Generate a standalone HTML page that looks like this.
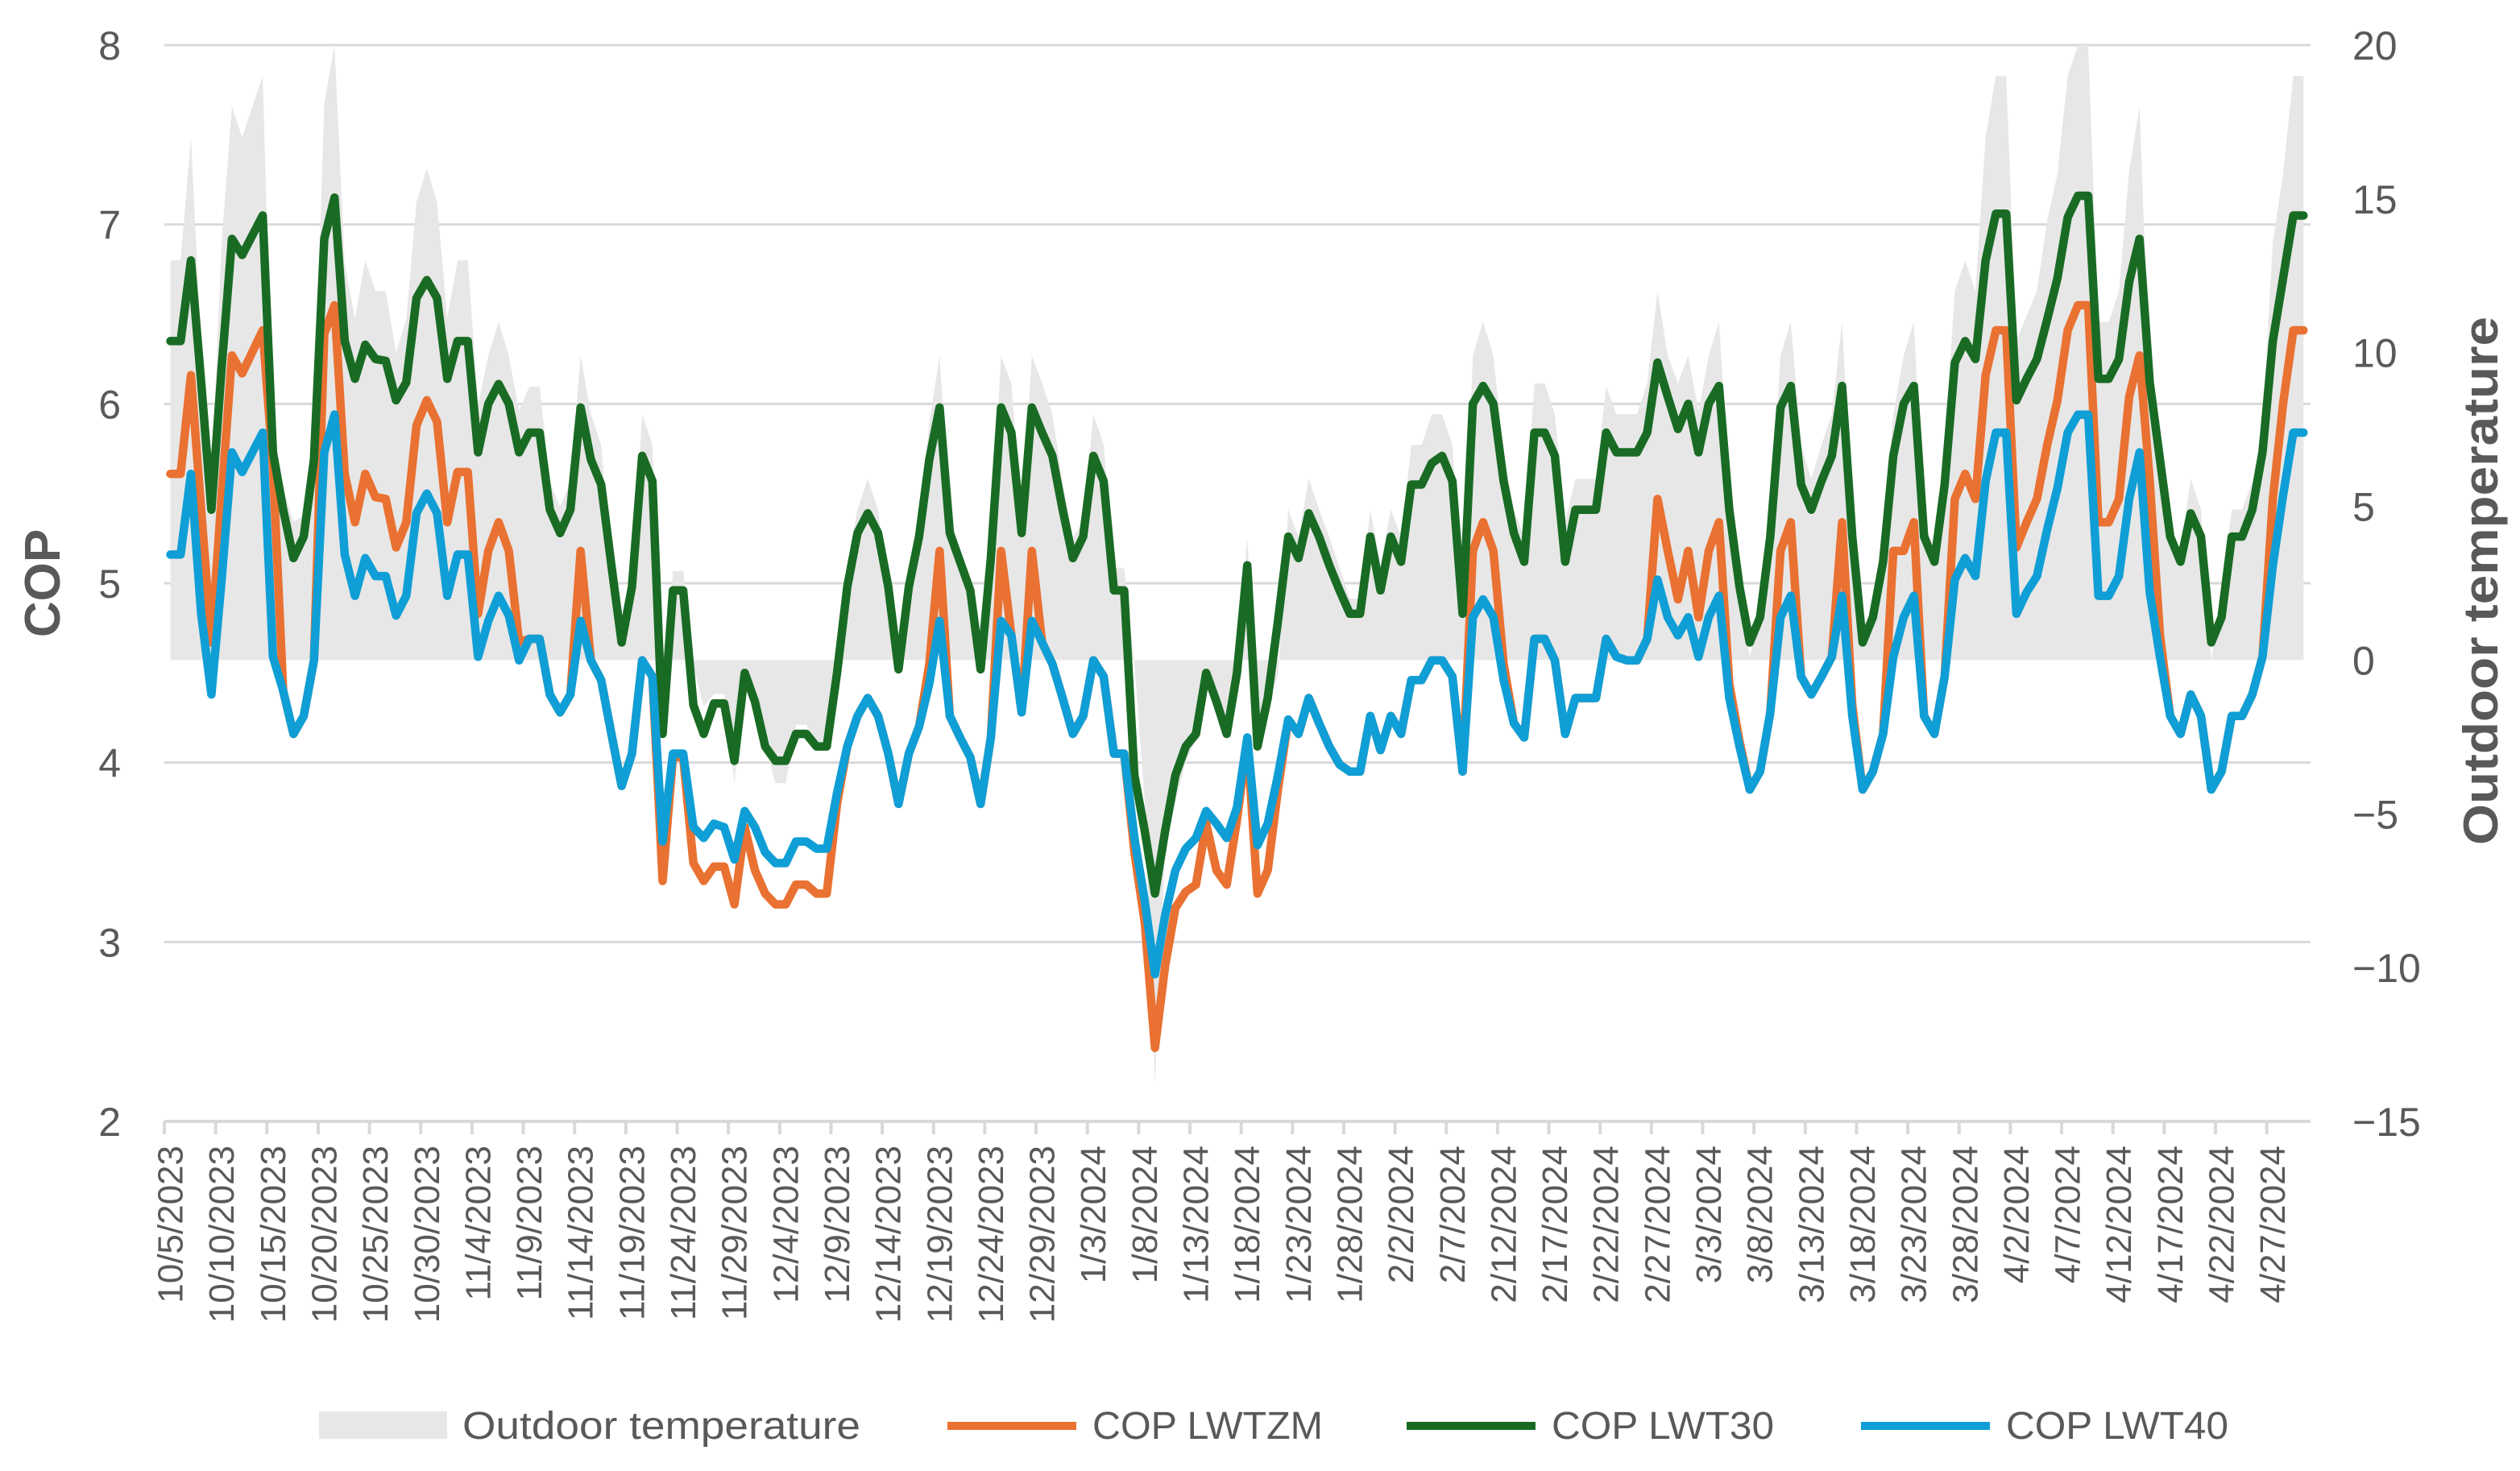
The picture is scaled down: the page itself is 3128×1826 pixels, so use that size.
<!DOCTYPE html>
<html><head><meta charset="utf-8"><style>
html,body{margin:0;padding:0;background:#fff;}
svg{display:block;font-family:"Liberation Sans",sans-serif;}
</style></head><body>
<svg id="chart" width="3128" height="1826" viewBox="0 0 3128 1826" xmlns="http://www.w3.org/2000/svg">
<g id="grid"></g>
<g id="area"></g>
<g id="lines"></g>
<g id="axes"></g>
<text transform="translate(74,724) rotate(-90)" text-anchor="middle" font-size="62" font-weight="bold" fill="#595959">COP</text>
<text transform="translate(3100,721) rotate(-90)" text-anchor="middle" font-size="60" font-weight="bold" fill="#595959" textLength="656" lengthAdjust="spacingAndGlyphs">Outdoor temperature</text>
<g>
 <rect x="396" y="1752" width="159" height="34" fill="#e7e7e7"/>
 <text x="574" y="1786" font-size="48" fill="#595959" textLength="494" lengthAdjust="spacingAndGlyphs">Outdoor temperature</text>
 <line x1="1176" y1="1770" x2="1336" y2="1770" stroke="#e97132" stroke-width="10"/>
 <text x="1356" y="1786" font-size="48" fill="#595959" textLength="286" lengthAdjust="spacingAndGlyphs">COP LWTZM</text>
 <line x1="1746" y1="1770" x2="1906" y2="1770" stroke="#196b24" stroke-width="10"/>
 <text x="1926" y="1786" font-size="48" fill="#595959" textLength="276" lengthAdjust="spacingAndGlyphs">COP LWT30</text>
 <line x1="2310" y1="1770" x2="2470" y2="1770" stroke="#0f9ed5" stroke-width="10"/>
 <text x="2490" y="1786" font-size="48" fill="#595959" textLength="276" lengthAdjust="spacingAndGlyphs">COP LWT40</text>
</g>
</svg>
<script>
const startDate = [2023, 9, 5];
const copTicks = [2, 3, 4, 5, 6, 7, 8];
const tempTicks = [20, 15, 10, 5, 0, -5, -10, -15];
const tempTickLabels = ["20", "15", "10", "5", "0", "\u22125", "\u221210", "\u221215"];
const lwt30 = [6.35,6.35,6.80,6.12,5.41,6.20,6.92,6.83,6.94,7.05,5.73,5.41,5.14,5.26,5.69,6.92,7.15,6.35,6.14,6.33,6.25,6.24,6.02,6.12,6.59,6.69,6.59,6.14,6.35,6.35,
5.73,6.00,6.11,6.00,5.73,5.84,5.84,5.41,5.28,5.41,5.98,5.69,5.55,5.10,4.67,4.98,5.71,5.57,4.16,4.96,4.96,4.32,4.16,4.33,4.33,4.01,4.50,4.34,4.09,4.01,
4.01,4.16,4.16,4.09,4.09,4.50,4.98,5.28,5.39,5.28,4.98,4.52,4.98,5.26,5.69,5.98,5.28,5.12,4.96,4.52,5.14,5.98,5.84,5.28,5.98,5.84,5.71,5.41,5.14,5.26,
5.71,5.57,4.96,4.96,3.93,3.62,3.27,3.62,3.93,4.09,4.16,4.50,4.34,4.16,4.50,5.10,4.09,4.36,4.79,5.26,5.14,5.39,5.26,5.10,4.96,4.83,4.83,5.26,4.96,5.26,
5.12,5.55,5.55,5.67,5.71,5.57,4.83,6.00,6.10,6.00,5.57,5.28,5.12,5.84,5.84,5.71,5.12,5.41,5.41,5.41,5.84,5.73,5.73,5.73,5.84,6.23,6.04,5.86,6.00,5.73,
6.00,6.10,5.41,4.98,4.67,4.81,5.26,5.98,6.10,5.55,5.41,5.57,5.71,6.10,5.26,4.67,4.81,5.12,5.71,6.00,6.10,5.26,5.12,5.55,6.23,6.35,6.25,6.80,7.06,7.06,
6.02,6.14,6.25,6.47,6.70,7.04,7.16,7.16,6.14,6.14,6.25,6.68,6.92,6.12,5.69,5.26,5.12,5.39,5.26,4.67,4.81,5.26,5.26,5.41,5.73,6.35,6.70,7.05,7.05];
const lwtzm = [5.61,5.61,6.16,5.41,4.67,5.49,6.27,6.17,6.29,6.41,5.65,4.40,4.16,4.26,4.57,6.39,6.55,5.61,5.34,5.61,5.48,5.47,5.20,5.34,5.88,6.02,5.90,5.34,5.62,5.62,
4.83,5.18,5.34,5.18,4.67,4.69,4.69,4.38,4.28,4.38,5.18,4.57,4.46,4.16,3.87,4.05,4.57,4.48,3.34,4.03,4.03,3.44,3.34,3.42,3.42,3.21,3.64,3.40,3.27,3.21,
3.21,3.32,3.32,3.27,3.27,3.77,4.09,4.26,4.36,4.26,4.05,3.77,4.05,4.20,4.55,5.18,4.26,4.14,4.03,3.77,4.14,5.18,4.71,4.28,5.18,4.67,4.55,4.36,4.16,4.26,
4.57,4.48,4.05,4.05,3.50,3.11,2.41,2.87,3.19,3.28,3.32,3.66,3.40,3.32,3.68,4.12,3.27,3.40,3.85,4.24,4.16,4.36,4.22,4.09,3.99,3.95,3.95,4.26,4.07,4.26,
4.16,4.46,4.46,4.57,4.57,4.48,3.95,5.18,5.34,5.18,4.55,4.22,4.14,4.69,4.69,4.57,4.16,4.36,4.36,4.36,4.69,4.59,4.57,4.57,4.69,5.47,5.18,4.91,5.18,4.81,
5.18,5.34,4.44,4.12,3.85,3.95,4.28,5.18,5.34,4.48,4.38,4.48,4.59,5.34,4.32,3.85,3.95,4.16,5.18,5.18,5.34,4.26,4.16,4.48,5.47,5.61,5.47,6.16,6.41,6.41,
5.20,5.34,5.47,5.77,6.02,6.41,6.55,6.55,5.34,5.34,5.47,6.04,6.27,5.57,4.71,4.26,4.16,4.38,4.26,3.85,3.95,4.26,4.26,4.38,4.59,5.47,6.00,6.41,6.41];
const lwt40 = [5.16,5.16,5.61,4.83,4.38,5.02,5.73,5.62,5.73,5.84,4.59,4.40,4.16,4.26,4.57,5.73,5.94,5.16,4.93,5.14,5.04,5.04,4.82,4.93,5.39,5.50,5.39,4.93,5.16,5.16,
4.59,4.79,4.93,4.82,4.57,4.69,4.69,4.38,4.28,4.38,4.79,4.57,4.46,4.16,3.87,4.05,4.57,4.48,3.56,4.05,4.05,3.64,3.58,3.66,3.64,3.46,3.73,3.64,3.50,3.44,
3.44,3.56,3.56,3.52,3.52,3.83,4.09,4.26,4.36,4.26,4.05,3.77,4.05,4.20,4.44,4.79,4.26,4.14,4.03,3.77,4.14,4.79,4.71,4.28,4.79,4.67,4.55,4.36,4.16,4.26,
4.57,4.48,4.05,4.05,3.58,3.23,2.82,3.15,3.40,3.52,3.58,3.73,3.66,3.58,3.75,4.14,3.54,3.66,3.93,4.24,4.16,4.36,4.22,4.09,3.99,3.95,3.95,4.26,4.07,4.26,
4.16,4.46,4.46,4.57,4.57,4.48,3.95,4.81,4.91,4.81,4.46,4.22,4.14,4.69,4.69,4.57,4.16,4.36,4.36,4.36,4.69,4.59,4.57,4.57,4.69,5.02,4.81,4.71,4.81,4.59,
4.81,4.93,4.36,4.09,3.85,3.95,4.28,4.81,4.93,4.48,4.38,4.48,4.59,4.93,4.26,3.85,3.95,4.16,4.59,4.81,4.93,4.26,4.16,4.48,5.02,5.14,5.04,5.57,5.84,5.84,
4.83,4.95,5.04,5.30,5.53,5.84,5.94,5.94,4.93,4.93,5.04,5.47,5.73,4.95,4.59,4.26,4.16,4.38,4.26,3.85,3.95,4.26,4.26,4.38,4.59,5.10,5.49,5.84,5.84];
const outdoorTemp = [13.0,13.0,17.0,10.2,5.8,13.6,18.0,17.0,18.0,19.0,7.2,5.6,4.5,4.7,7.7,18.1,20.0,12.9,11.1,13.0,12.0,12.0,10.0,11.1,14.9,16.0,14.9,11.1,13.0,13.0,
8.3,9.9,11.0,9.9,8.1,8.9,8.9,5.8,5.0,5.8,9.9,8.0,7.0,3.1,0.4,2.4,8.0,7.0,-2.4,2.9,2.9,-0.2,-1.5,-1.1,-1.1,-4.0,-0.2,-1.3,-2.8,-4.0,
-4.0,-2.1,-2.1,-2.8,-2.8,0.0,3.1,4.9,5.9,4.9,2.2,-0.2,2.2,4.5,7.7,9.9,4.7,3.6,2.6,-0.2,4.0,9.9,9.0,4.5,9.9,9.0,8.0,5.8,4.0,4.5,
8.0,7.0,3.0,3.0,-0.1,-4.6,-13.8,-6.0,-4.6,-3.3,-2.6,-0.2,-1.5,-2.4,-0.1,4.0,-2.5,-1.5,-0.5,4.9,4.0,5.9,4.9,4.0,3.0,2.0,2.0,4.9,3.1,4.9,
4.0,7.0,7.0,8.0,8.0,7.0,1.5,9.9,11.0,9.9,6.7,4.9,4.0,9.0,9.0,8.0,4.5,5.9,5.9,5.9,8.9,8.0,8.0,8.0,9.0,12.0,9.9,9.0,9.9,8.1,
9.9,11.0,5.8,2.6,0.1,1.7,4.5,9.9,11.0,7.0,5.9,7.0,8.0,11.0,4.7,0.4,1.7,4.0,8.0,9.9,11.0,4.5,3.6,7.0,12.0,13.0,12.0,17.0,19.0,19.0,
10.4,11.2,12.0,14.3,15.8,19.0,20.0,20.0,11.0,11.0,12.0,15.9,18.0,9.0,7.2,4.0,3.6,5.9,4.9,0.0,2.2,4.9,4.9,5.8,7.7,13.6,15.8,19.0,19.0];

const NS = "http://www.w3.org/2000/svg";
const plotL = 204, plotR = 2868, yTop = 56, yBot = 1392;
const x0 = 211.5, dx = 12.73;
function xPos(i){ return x0 + dx * i; }
function yCop(v){ return yBot - (v - 2) / 6 * (yBot - yTop); }
function yTemp(v){ return yBot - (v + 15) / 35 * (yBot - yTop); }
function mk(tag, attrs, parent){
  const el = document.createElementNS(NS, tag);
  for (const k in attrs) el.setAttribute(k, attrs[k]);
  parent.appendChild(el);
  return el;
}
const grid = document.getElementById('grid');
const axes = document.getElementById('axes');
copTicks.forEach(v => {
  if (v > 2) {
    const gl = mk('line', {x1: plotL, x2: plotR, y1: yCop(v), y2: yCop(v), stroke: '#d9d9d9', 'stroke-width': 3}, grid);
    
    
  }
  const t = mk('text', {x: 150, y: yCop(v) + 18, 'text-anchor': 'end', 'font-size': 50, fill: '#595959'}, axes);
  t.textContent = String(v);
  
  
});
tempTicks.forEach((v, k) => {
  const t = mk('text', {x: 2920, y: yTemp(v) + 18, 'text-anchor': 'start', 'font-size': 50, fill: '#595959'}, axes);
  t.textContent = tempTickLabels[k];
  
  
});
const n = outdoorTemp.length;
let d = 'M' + xPos(0) + ',' + yTemp(0);
for (let i = 0; i < n; i++) d += ' L' + xPos(i).toFixed(1) + ',' + yTemp(outdoorTemp[i]).toFixed(1);
d += ' L' + xPos(n - 1) + ',' + yTemp(0) + ' Z';
const ar = mk('path', {d: d, fill: '#e7e7e7'}, document.getElementById('area'));


const ax = mk('line', {x1: plotL, x2: plotR, y1: yBot, y2: yBot, stroke: '#d9d9d9', 'stroke-width': 4}, axes);


for (let i = 0; i <= n; i += 5) {
  const tx = plotL + dx * i;
  const tk = mk('line', {x1: tx, x2: tx, y1: yBot, y2: yBot + 16, stroke: '#d9d9d9', 'stroke-width': 4}, axes);
  
  
}
const sd = new Date(startDate[0], startDate[1], startDate[2]);
for (let i = 0; i < n; i += 5) {
  const dt = new Date(sd.getFullYear(), sd.getMonth(), sd.getDate() + i);
  const lab = (dt.getMonth() + 1) + '/' + dt.getDate() + '/' + dt.getFullYear();
  const t = mk('text', {transform: 'translate(' + (xPos(i) + 15).toFixed(1) + ',1422) rotate(-90)', 'text-anchor': 'end', 'font-size': 44, fill: '#595959'}, axes);
  t.textContent = lab;
  
  
}
const lines = document.getElementById('lines');
function drawLine(arr, color, name){
  let p = '';
  arr.forEach((v, i) => { p += (i ? ' L' : 'M') + xPos(i).toFixed(1) + ',' + yCop(v).toFixed(1); });
  const el = mk('path', {d: p, fill: 'none', stroke: color, 'stroke-width': 10.5, 'stroke-linejoin': 'round', 'stroke-linecap': 'round'}, lines);
  
  
}
drawLine(lwtzm, '#e97132', 'line-cop-lwtzm');
drawLine(lwt30, '#196b24', 'line-cop-lwt30');
drawLine(lwt40, '#0f9ed5', 'line-cop-lwt40');
</script>
</body></html>
